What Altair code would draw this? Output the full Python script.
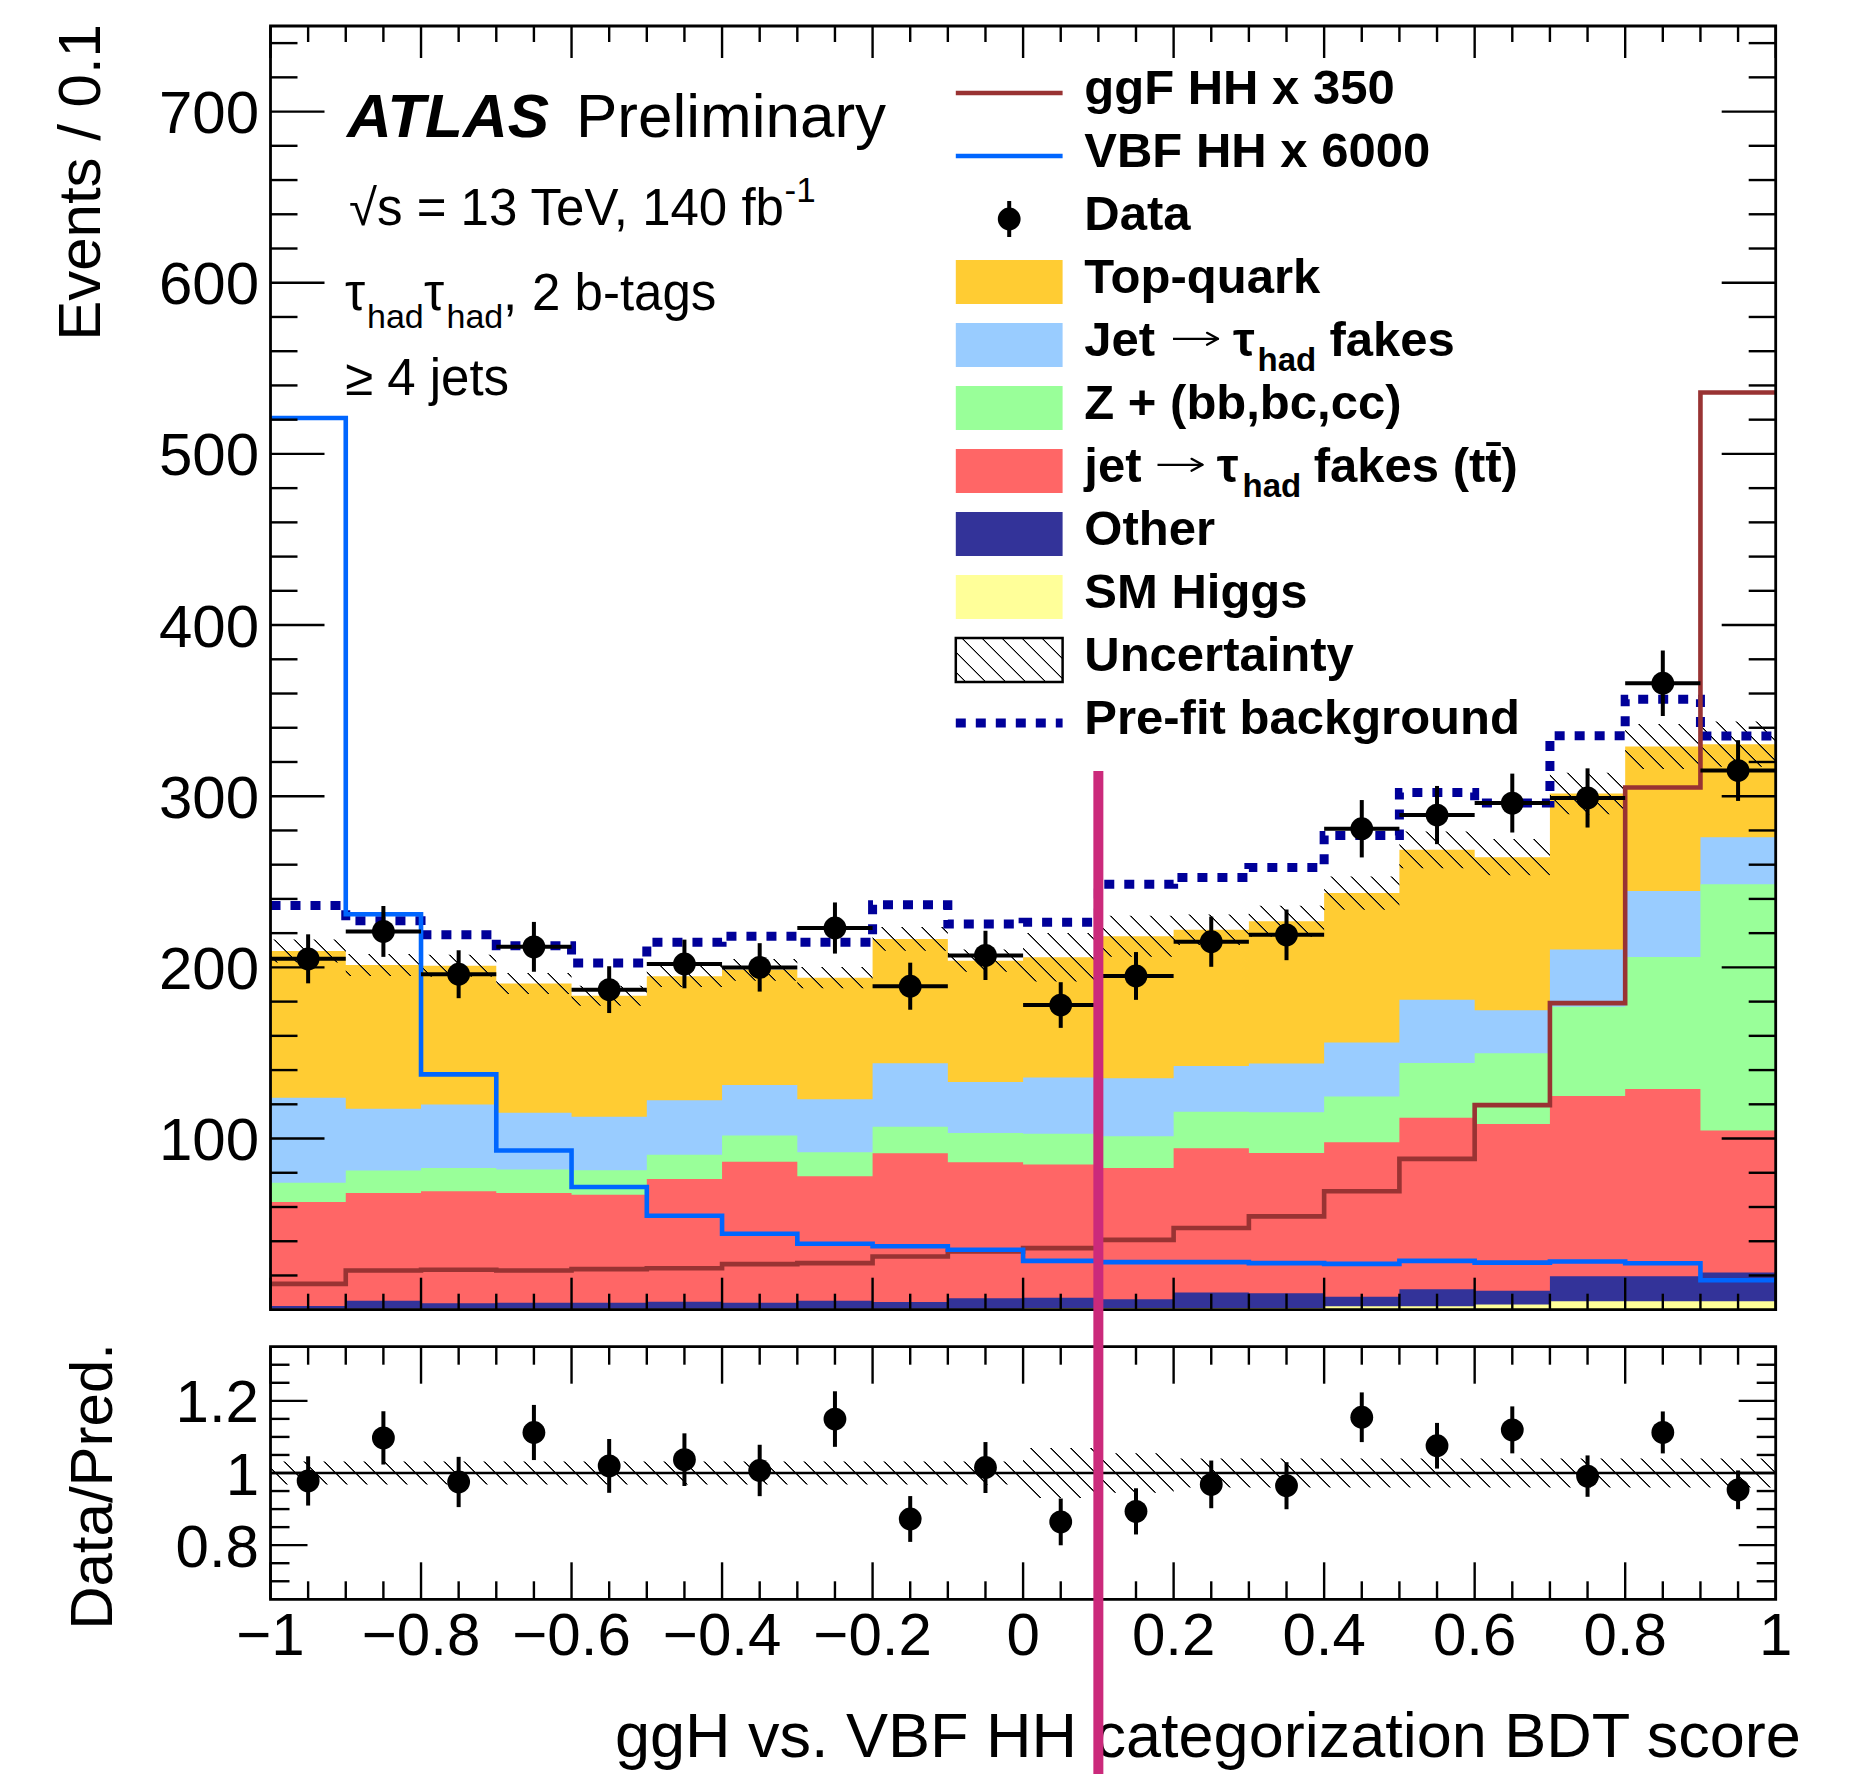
import altair as alt
import numpy as np
import pandas as pd

FONT = "Liberation Sans, Arial, Helvetica, sans-serif"

# ---------------------------------------------------------------------------
# Histogram content: 20 bins of the ggH vs. VBF HH categorisation BDT score
# ---------------------------------------------------------------------------
bin_edges = [-1.0, -0.9, -0.8, -0.7, -0.6, -0.5, -0.4, -0.3, -0.2, -0.1, 0.0,
             0.1, 0.2, 0.3, 0.4, 0.5, 0.6, 0.7, 0.8, 0.9, 1.0]

# post-fit background yields per bin (stacked from bottom to top)
sm_higgs = [0.5, 0.5, 0.5, 0.5, 0.5, 0.5, 0.5, 0.5, 0.5, 0.5,
            1.0, 1.0, 1.0, 1.0, 2.0, 2.0, 3.0, 5.0, 5.0, 5.0]
other = [1.7, 4.8, 3.2, 3.6, 3.6, 4.2, 3.6, 4.8, 4.0, 6.2,
         6.0, 5.1, 9.0, 8.6, 5.6, 9.9, 8.1, 14.5, 14.5, 16.7]
ttbar_fakes = [60.7, 62.9, 65.5, 64.1, 63.1, 71.7, 82.4, 72.6, 86.9, 79.4,
               77.8, 76.7, 84.4, 82.0, 90.3, 100.2, 97.4, 105.3, 109.5, 83.0]
z_hf = [11.2, 13.1, 13.6, 13.7, 14.3, 14.1, 15.3, 14.1, 15.5, 17.2,
        18.0, 18.6, 21.2, 23.8, 26.7, 32.0, 41.3, 52.2, 77.0, 143.9]
jet_fakes = [49.8, 36.1, 37.1, 33.2, 31.2, 31.8, 29.5, 30.9, 37.1, 29.7,
             32.8, 33.8, 26.8, 28.4, 31.5, 37.0, 25.2, 33.5, 38.6, 27.4]
top_quark = [85.7, 84.0, 81.1, 75.5, 70.7, 72.5, 67.3, 71.1, 72.6, 70.9,
             70.3, 83.0, 79.6, 83.2, 87.3, 87.6, 89.4, 91.1, 84.4, 54.4]

# relative uncertainty on the total background
rel_unc = [0.032, 0.032, 0.032, 0.032, 0.032, 0.032, 0.032, 0.032, 0.032, 0.032,
           0.069, 0.055, 0.040, 0.040, 0.040, 0.040, 0.040, 0.040, 0.040, 0.040]

data_counts = [205, 221, 196, 212, 187, 202, 200, 223, 189, 207,
               178, 195, 215, 219, 281, 289, 296, 299, 366, 315]

ggf_hh_x350 = [15.1, 22.9, 23.3, 22.9, 23.7, 24.2, 26.6, 27.2, 31.1, 34.0,
               36.0, 40.8, 47.7, 54.5, 69.2, 88.1, 119.5, 179.1, 305.1, 535.9]
vbf_hh_x6000 = [521.0, 231.0, 137.5, 93.0, 71.7, 54.9, 44.4, 38.5, 37.1, 35.0,
                28.5, 27.8, 27.8, 27.2, 26.8, 28.5, 27.5, 28.2, 27.1, 17.2]
prefit_bkg = [236.1, 227.3, 219.1, 212.7, 202.6, 214.7, 218.2, 214.7, 236.6, 225.4,
              226.4, 248.5, 252.5, 258.4, 277.1, 302.2, 296.1, 335.4, 356.7, 335.2]

# boundary between the ggF-like and VBF-like categories
category_cut = 0.1

process_names = ["SM Higgs", "Other", "jet → τhad fakes (tt̄)",
                 "Z + (bb,bc,cc)", "Jet → τhad fakes", "Top-quark"]
process_colors = ["#FFFF99", "#333399", "#FF6666", "#99FF99", "#99CCFF", "#FFCC33"]

# ---------------------------------------------------------------------------
# Geometry of the two panels (pixels inside the drawing area)
# ---------------------------------------------------------------------------
W = 1505.2
H_MAIN = 1283.7
R_TOP = 1320.7
R_BOT = 1573.3
Y_MAX = 750.0
R_MIN, R_MAX = 0.65, 1.35
TICK_W = 2.4
LABEL_SIZE = 60

x_scale = alt.Scale(domain=[-1, 1], nice=False, zero=False)
y_main = alt.Scale(domain=[0, Y_MAX], range=[H_MAIN, 0], nice=False, zero=False)
y_ratio = alt.Scale(domain=[R_MIN, R_MAX], range=[R_BOT, R_TOP], nice=False, zero=False)

x_major = [-1, -0.8, -0.6, -0.4, -0.2, 0, 0.2, 0.4, 0.6, 0.8, 1]
x_minor = [float(v) for v in np.round(np.arange(-1, 1.0001, 0.05), 2)
           if not np.isclose(v, x_major).any()]
y_major = [100, 200, 300, 400, 500, 600, 700]
y_minor = [v for v in range(20, 750, 20) if v % 100]
r_major = [0.8, 1.0, 1.2]
r_minor = [float(v) for v in np.round(np.arange(0.70, 1.3001, 0.05), 2)
           if not np.isclose(v, r_major).any()]

# ---------------------------------------------------------------------------
# Derived quantities
# ---------------------------------------------------------------------------
edges = np.array(bin_edges)
lo, hi = edges[:-1], edges[1:]
centers = (lo + hi) / 2
stack = np.array([sm_higgs, other, ttbar_fakes, z_hf, jet_fakes, top_quark])
cum = np.cumsum(stack, axis=0)
total = cum[-1]
unc = total * np.array(rel_unc)
counts = np.array(data_counts, dtype=float)
err = np.sqrt(counts)


def step_frame(**cols):
    """Points for a step-after line: every bin's left edge plus the last right edge."""
    d = {"x": list(lo) + [hi[-1]]}
    for k, v in cols.items():
        v = [float(a) for a in v]
        d[k] = v + [v[-1]]
    return pd.DataFrame(d)


def hatch(w_px, h_px, pitch=20.0):
    """Diagonal (top-left to bottom-right) hatching as a bounding-box gradient."""
    span = w_px + h_px
    s = span / (w_px ** 2 + h_px ** 2)
    clear, ink = "rgba(255,255,255,0)", "#000000"
    stops = []
    q = -h_px + pitch / 2
    while q < w_px:
        t = [(q + h_px + d) / span for d in (-1.4, -0.45, 0.45, 1.4)]
        if t[0] > 0 and t[3] < 1:
            for off, col in zip(t, (clear, ink, ink, clear)):
                stops.append(alt.GradientStop(offset=round(off, 6), color=col))
        q += pitch
    return alt.LinearGradient(gradient="linear", stops=stops, x1=0, y1=1,
                              x2=round(s * w_px, 6), y2=round(1 - s * h_px, 6))


ONE = pd.DataFrame({"k": [0]})


def label(s, x, y, size, weight="normal", style="normal", align="left", angle=0):
    mk = dict(text=s, font=FONT, fontSize=size, fontWeight=weight, fontStyle=style,
              align=align, baseline="alphabetic", color="black")
    if angle:
        mk["angle"] = angle
    return alt.Chart(ONE).mark_text(**mk).encode(x=alt.value(x), y=alt.value(y))


def fmt(v):
    return f"{v:g}".replace("-", "\u2212")


def x_labels(vals, y):
    df = pd.DataFrame({"t": vals, "s": [fmt(v) for v in vals]})
    return alt.Chart(df).mark_text(font=FONT, fontSize=LABEL_SIZE, align="center",
                                   baseline="alphabetic", color="black").encode(
        x=alt.X("t:Q", scale=x_scale, axis=None), y=alt.value(y), text="s:N")


def y_labels(vals, scale):
    df = pd.DataFrame({"t": vals, "s": [fmt(v) for v in vals]})
    return alt.Chart(df).mark_text(font=FONT, fontSize=LABEL_SIZE, align="right",
                                   baseline="alphabetic", dy=21.5, color="black").encode(
        y=alt.Y("t:Q", scale=scale, axis=None), x=alt.value(-11.5), text="s:N")


def vticks(vals, y0, y1):
    return alt.Chart(pd.DataFrame({"t": vals})).mark_rule(
        color="black", strokeWidth=TICK_W).encode(
        x=alt.X("t:Q", scale=x_scale, axis=None), y=alt.value(y0), y2=alt.value(y1))


def hticks(vals, scale, x0, x1):
    return alt.Chart(pd.DataFrame({"t": vals})).mark_rule(
        color="black", strokeWidth=TICK_W).encode(
        y=alt.Y("t:Q", scale=scale, axis=None), x=alt.value(x0), x2=alt.value(x1))


def frame(y0, y1):
    return alt.Chart(ONE).mark_rect(filled=False, color="black", strokeWidth=2.8).encode(
        x=alt.value(0), x2=alt.value(W), y=alt.value(y0), y2=alt.value(y1))


# ---------------------------------------------------------------------------
# Upper panel
# ---------------------------------------------------------------------------
main_layers = []
for i in reversed(range(len(process_names))):
    df = step_frame(y=cum[i])
    df["base"] = 0.0
    main_layers.append(
        alt.Chart(df).mark_area(interpolate="step-after", color=process_colors[i]).encode(
            x=alt.X("x:Q", scale=x_scale, axis=None),
            y=alt.Y("y:Q", scale=y_main, axis=None),
            y2="base:Q"))

px_main = H_MAIN / Y_MAX
band_h = (max(total + unc) - min(total - unc)) * px_main
main_layers.append(
    alt.Chart(step_frame(lo=total - unc, hi=total + unc))
    .mark_area(interpolate="step-after", fill=hatch(W, band_h))
    .encode(x=alt.X("x:Q", scale=x_scale, axis=None),
            y=alt.Y("lo:Q", scale=y_main, axis=None), y2="hi:Q"))


def step_line(vals, color, width, **extra):
    return alt.Chart(step_frame(y=vals)).mark_line(
        interpolate="step-after", color=color, strokeWidth=width, strokeCap="butt", **extra
    ).encode(x=alt.X("x:Q", scale=x_scale, axis=None),
             y=alt.Y("y:Q", scale=y_main, axis=None))


main_layers += [
    step_line(prefit_bkg, "#000099", 9, strokeDash=[10, 10]),
    step_line(ggf_hh_x350, "#993333", 4.6),
    step_line(vbf_hh_x6000, "#0066FF", 4.6),
]

pts = pd.DataFrame({
    "c": centers, "lo": lo, "hi": hi, "n": counts,
    "n_lo": counts - err, "n_hi": counts + err,
    "r": counts / total, "r_lo": (counts - err) / total, "r_hi": (counts + err) / total,
})
DOT = 520
main_layers += [
    alt.Chart(pts).mark_rule(color="black", strokeWidth=4).encode(
        x=alt.X("c:Q", scale=x_scale, axis=None),
        y=alt.Y("n_lo:Q", scale=y_main, axis=None), y2="n_hi:Q"),
    alt.Chart(pts).mark_rule(color="black", strokeWidth=4).encode(
        x=alt.X("lo:Q", scale=x_scale, axis=None), x2="hi:Q",
        y=alt.Y("n:Q", scale=y_main, axis=None)),
    alt.Chart(pts).mark_circle(size=DOT, color="black", opacity=1).encode(
        x=alt.X("c:Q", scale=x_scale, axis=None),
        y=alt.Y("n:Q", scale=y_main, axis=None)),
]

# inward ticks, frame and tick labels
main_layers += [
    vticks(x_major, 0, 32), vticks(x_minor, 0, 16),
    vticks(x_major, H_MAIN - 32, H_MAIN), vticks(x_minor, H_MAIN - 16, H_MAIN),
    hticks(y_major, y_main, 0, 54), hticks(y_minor, y_main, 0, 27),
    hticks(y_major, y_main, W - 54, W), hticks(y_minor, y_main, W - 27, W),
    frame(0, H_MAIN),
    y_labels(y_major, y_main),
]

# ATLAS label and selection text
main_layers += [
    label("ATLAS", 76.5, 111, 62, weight="bold", style="italic"),
    label("Preliminary", 305.5, 111, 62),
    label("√s = 13 TeV, 140 fb", 78.5, 199, 51),
    label("-1", 514, 176, 35),
    label("τ", 74.5, 284, 51),
    label("had", 96.5, 302, 34),
    label("τ", 153.5, 284, 51),
    label("had", 176, 302, 34),
    label(",", 232.5, 284, 51),
    label("2 b-tags", 261.5, 284, 51),
    label("≥ 4 jets", 74.5, 369, 51),
]

# legend
SYM0, SYM1, TXT = 685.3, 792.1, 813.8
LEG = 49


def row_base(i):
    return 77.8 + 63.0 * i


def row_mid(i):
    return 67.0 + 63.0 * i


def leg_line(i, color, width, **extra):
    return alt.Chart(ONE).mark_rule(color=color, strokeWidth=width, strokeCap="butt",
                                    **extra).encode(
        x=alt.value(SYM0), x2=alt.value(SYM1), y=alt.value(row_mid(i)))


def leg_box(i, **style):
    return alt.Chart(ONE).mark_rect(**style).encode(
        x=alt.value(SYM0), x2=alt.value(SYM1),
        y=alt.value(row_mid(i) - 22), y2=alt.value(row_mid(i) + 22))


def leg_arrow(x0, i):
    """Thin long arrow used inside the fake-tau legend entries."""
    y = row_base(i) - 17
    return [
        alt.Chart(ONE).mark_rule(color="black", strokeWidth=2.2).encode(
            x=alt.value(x0), x2=alt.value(x0 + 44), y=alt.value(y)),
        alt.Chart(ONE).mark_rule(color="black", strokeWidth=2.2, strokeCap="round").encode(
            x=alt.value(x0 + 34), x2=alt.value(x0 + 45),
            y=alt.value(y - 6), y2=alt.value(y)),
        alt.Chart(ONE).mark_rule(color="black", strokeWidth=2.2, strokeCap="round").encode(
            x=alt.value(x0 + 34), x2=alt.value(x0 + 45),
            y=alt.value(y + 6), y2=alt.value(y)),
    ]


sym_x = (SYM0 + SYM1) / 2
main_layers += [
    leg_line(0, "#993333", 4.6),
    label("ggF HH x 350", TXT, row_base(0), LEG, weight="bold"),
    leg_line(1, "#0066FF", 4.6),
    label("VBF HH x 6000", TXT, row_base(1), LEG, weight="bold"),
    alt.Chart(ONE).mark_rule(color="black", strokeWidth=4).encode(
        x=alt.value(sym_x), y=alt.value(row_mid(2) - 18), y2=alt.value(row_mid(2) + 18)),
    alt.Chart(ONE).mark_circle(size=DOT, color="black", opacity=1).encode(
        x=alt.value(sym_x), y=alt.value(row_mid(2))),
    label("Data", TXT, row_base(2), LEG, weight="bold"),
]
legend_rows = [(3, 5), (4, 4), (5, 3), (6, 2), (7, 1), (8, 0)]
for row, p in legend_rows:
    main_layers.append(leg_box(row, color=process_colors[p]))
main_layers += [
    label("Top-quark", TXT, row_base(3), LEG, weight="bold"),
    label("Jet", TXT, row_base(4), LEG, weight="bold"),
    *leg_arrow(902.5, 4),
    label("τ", 962.5, row_base(4), LEG, weight="bold"),
    label("had", 987, row_base(4) + 15, 33, weight="bold"),
    label("fakes", 1059, row_base(4), LEG, weight="bold"),
    label("Z + (bb,bc,cc)", TXT, row_base(5), LEG, weight="bold"),
    label("jet", TXT, row_base(6), LEG, weight="bold"),
    *leg_arrow(887, 6),
    label("τ", 946.3, row_base(6), LEG, weight="bold"),
    label("had", 972, row_base(6) + 15, 33, weight="bold"),
    label("fakes (tt̄)", 1043.2, row_base(6), LEG, weight="bold"),
    label("Other", TXT, row_base(7), LEG, weight="bold"),
    label("SM Higgs", TXT, row_base(8), LEG, weight="bold"),
    leg_box(9, fill=hatch(SYM1 - SYM0, 44), stroke="black", strokeWidth=2.5),
    label("Uncertainty", TXT, row_base(9), LEG, weight="bold"),
    leg_line(10, "#000099", 9, strokeDash=[10, 10]),
    label("Pre-fit background", TXT, row_base(10), LEG, weight="bold"),
]

# axis titles
main_layers += [
    label("Events / 0.1", -170.5, -2, 60, align="right", angle=270),
    label("Data/Pred.", -159, 1317, 60, align="right", angle=270),
    label("ggH vs. VBF HH categorization BDT score", 1530.2, 1731, 63, align="right"),
]

# ---------------------------------------------------------------------------
# Ratio panel
# ---------------------------------------------------------------------------
rel = np.array(rel_unc)
px_ratio = (R_BOT - R_TOP) / (R_MAX - R_MIN)
ratio_layers = [
    alt.Chart(step_frame(lo=1 - rel, hi=1 + rel))
    .mark_area(interpolate="step-after", fill=hatch(W, 2 * rel.max() * px_ratio))
    .encode(x=alt.X("x:Q", scale=x_scale, axis=None),
            y=alt.Y("lo:Q", scale=y_ratio, axis=None), y2="hi:Q"),
    alt.Chart(pd.DataFrame({"one": [1.0]})).mark_rule(color="black", strokeWidth=2.4).encode(
        y=alt.Y("one:Q", scale=y_ratio, axis=None), x=alt.value(0), x2=alt.value(W)),
    alt.Chart(pts).mark_rule(color="black", strokeWidth=4).encode(
        x=alt.X("c:Q", scale=x_scale, axis=None),
        y=alt.Y("r_lo:Q", scale=y_ratio, axis=None), y2="r_hi:Q"),
    alt.Chart(pts).mark_circle(size=DOT, color="black", opacity=1).encode(
        x=alt.X("c:Q", scale=x_scale, axis=None),
        y=alt.Y("r:Q", scale=y_ratio, axis=None)),
    vticks(x_major, R_TOP, R_TOP + 37), vticks(x_minor, R_TOP, R_TOP + 18),
    vticks(x_major, R_BOT - 37, R_BOT), vticks(x_minor, R_BOT - 18, R_BOT),
    hticks(r_major, y_ratio, 0, 37), hticks(r_minor, y_ratio, 0, 19),
    hticks(r_major, y_ratio, W - 37, W), hticks(r_minor, y_ratio, W - 19, W),
    frame(R_TOP, R_BOT),
    y_labels(r_major, y_ratio),
    x_labels(x_major, 1629),
    # category boundary, drawn through both panels
    alt.Chart(pd.DataFrame({"cut": [category_cut]})).mark_rule(
        color="#CB2A7B", strokeWidth=10).encode(
        x=alt.X("cut:Q", scale=x_scale, axis=None), y=alt.value(745), y2=alt.value(1748)),
]

chart = (
    alt.layer(alt.layer(*main_layers), alt.layer(*ratio_layers))
    .resolve_scale(y="independent")
    .properties(width=W, height=R_BOT,
                padding={"left": 270.5, "top": 26, "right": 84.3, "bottom": 174.7},
                autosize=alt.AutoSizeParams(type="none"), background="white")
    .configure_view(strokeOpacity=0)
)

chart.save("out.html", embed_options={"renderer": "svg", "actions": False})
